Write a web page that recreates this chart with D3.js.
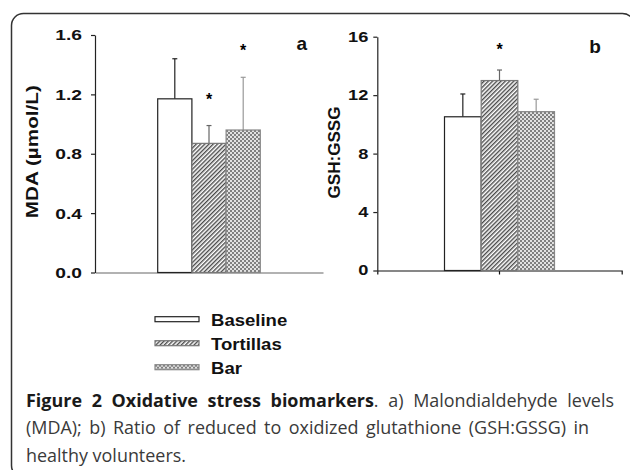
<!DOCTYPE html>
<html>
<head>
<meta charset="utf-8">
<script src="https://cdn.jsdelivr.net/npm/d3@7"></script>
<style>
  body { margin: 0; background: #fff; }
  svg { display: block; }
</style>
</head>
<body>
<div id="vis"></div>
<script>
// Data
var categories = ["Baseline", "Tortillas", "Bar"];
var mdaMean = [1.17, 0.87, 0.96];
var mdaSD = [0.27, 0.12, 0.355];
var mdaSig = [false, true, true];
var gshMean = [10.52, 13.0, 10.87];
var gshSD = [1.56, 0.72, 0.85];
var gshSig = [false, true, false];
var mdaTicks = [0, 0.4, 0.8, 1.2, 1.6];
var gshTicks = [0, 4, 8, 12, 16];
var captionBold = "Figure 2 Oxidative stress biomarkers";
var captionLines = [
  ". a) Malondialdehyde levels",
  "(MDA); b) Ratio of reduced to oxidized glutathione (GSH:GSSG) in",
  "healthy volunteers."
];

var width = 630;
var height = 470;
var font = "'Liberation Sans', Arial, sans-serif";

var svg = d3.select("#vis").append("svg")
  .attr("width", width)
  .attr("height", height);

svg.append("rect").attr("width", width).attr("height", height).attr("fill", "#fff");

// fill patterns for the bars
var defs = svg.append("defs");
var hatch = defs.append("pattern")
  .attr("id", "hatch")
  .attr("patternUnits", "userSpaceOnUse")
  .attr("width", 3).attr("height", 3)
  .attr("patternTransform", "rotate(45)");
hatch.append("rect").attr("width", 3).attr("height", 3).attr("fill", "#fff");
hatch.append("rect").attr("width", 1.4).attr("height", 3).attr("fill", "#4a4a4a");

var check = defs.append("pattern")
  .attr("id", "check")
  .attr("patternUnits", "userSpaceOnUse")
  .attr("width", 4).attr("height", 4);
check.append("rect").attr("width", 4).attr("height", 4).attr("fill", "#e2e2e2");
check.append("rect").attr("width", 2).attr("height", 2).attr("fill", "#808080");
check.append("rect").attr("x", 2).attr("y", 2).attr("width", 2).attr("height", 2).attr("fill", "#808080");

var fills = { Baseline: "#fff", Tortillas: "url(#hatch)", Bar: "url(#check)" };
var strokes = { Baseline: "#222", Tortillas: "#777", Bar: "#888" };
var errColor = { Baseline: "#222", Tortillas: "#666", Bar: "#999" };

// stretch text horizontally along its own direction
function stretch(sel, k) {
  sel.each(function () {
    var len = this.getComputedTextLength();
    d3.select(this)
      .attr("textLength", len * k)
      .attr("lengthAdjust", "spacingAndGlyphs");
  });
}

// frame around the figure
svg.append("rect")
  .attr("x", 11.5).attr("y", 13.5)
  .attr("width", 623).attr("height", 464)
  .attr("rx", 12)
  .attr("fill", "none")
  .attr("stroke", "#333")
  .attr("stroke-width", 1.5);

/**
 * drawPanel - one bar panel with y axis, error bars and asterisks
 */
function drawPanel(opt) {
  var g = svg.append("g");

  var y = d3.scaleLinear().domain(opt.domain).range(opt.yRange);
  var outer = d3.scaleBand().domain(["group"]).range(opt.xRange);
  var mid = outer("group") + outer.bandwidth() / 2;
  var x = d3.scaleBand().domain(categories)
    .range([mid - opt.halfWidth, mid + opt.halfWidth]);

  var rows = categories.map(function (c, i) {
    return { cat: c, mean: opt.mean[i], sd: opt.sd[i], sig: opt.sig[i] };
  });

  // x axis
  var xAxis = g.append("g")
    .attr("transform", "translate(0," + opt.yRange[0] + ")")
    .call(d3.axisBottom(outer).tickSize(opt.xTicks ? 4 : 0).tickSizeOuter(opt.xTicks ? 4 : 0).tickFormat(""));
  xAxis.selectAll("path, line").attr("stroke", opt.xAxisColor).attr("stroke-width", 1.2);

  // error bars (upper half only)
  var err = g.append("g").selectAll("g").data(rows).enter().append("g")
    .attr("stroke", function (d) { return errColor[d.cat]; })
    .attr("stroke-width", 1.2);
  err.append("line")
    .attr("x1", function (d) { return x(d.cat) + x.bandwidth() / 2; })
    .attr("x2", function (d) { return x(d.cat) + x.bandwidth() / 2; })
    .attr("y1", function (d) { return y(d.mean); })
    .attr("y2", function (d) { return y(d.mean + d.sd); });
  err.append("line")
    .attr("x1", function (d) { return x(d.cat) + x.bandwidth() / 2 - 2.5; })
    .attr("x2", function (d) { return x(d.cat) + x.bandwidth() / 2 + 2.5; })
    .attr("y1", function (d) { return y(d.mean + d.sd); })
    .attr("y2", function (d) { return y(d.mean + d.sd); });

  // bars
  g.append("g").selectAll("rect").data(rows).enter().append("rect")
    .attr("x", function (d) { return x(d.cat); })
    .attr("y", function (d) { return y(d.mean); })
    .attr("width", x.bandwidth())
    .attr("height", function (d) { return y(0) - y(d.mean); })
    .attr("fill", function (d) { return fills[d.cat]; })
    .attr("stroke", function (d) { return strokes[d.cat]; })
    .attr("stroke-width", 1.2);

  // significance marks
  g.append("g").selectAll("text").data(rows.filter(function (d) { return d.sig; }))
    .enter().append("text")
    .attr("x", function (d) { return x(d.cat) + x.bandwidth() / 2; })
    .attr("y", function (d) { return y(d.mean + d.sd) - opt.starGap; })
    .attr("text-anchor", "middle")
    .style("font-family", font)
    .style("font-weight", "bold")
    .style("font-size", "16px")
    .text("*");

  // y axis
  var yAxis = g.append("g")
    .attr("transform", "translate(" + opt.xRange[0] + ",0)")
    .call(d3.axisLeft(y).tickValues(opt.ticks).tickFormat(opt.format)
      .tickSize(4).tickSizeOuter(0).tickPadding(opt.tickPad));
  yAxis.selectAll("path, line").attr("stroke", "#222").attr("stroke-width", 1.2);
  yAxis.selectAll("text")
    .attr("fill", "#111")
    .style("font-family", font)
    .style("font-weight", "bold")
    .style("font-size", opt.tickFont + "px")
    .call(stretch, opt.tickStretch);

  // axis title
  var title = g.append("text")
    .attr("transform", "translate(" + opt.titleX + "," + opt.titleY + ") rotate(-90)")
    .attr("text-anchor", "middle")
    .attr("fill", "#111")
    .style("font-family", font)
    .style("font-weight", "bold")
    .style("font-size", opt.titleFont + "px")
    .text(opt.title);
  title.attr("textLength", opt.titleLen).attr("lengthAdjust", "spacingAndGlyphs");

  // panel letter
  g.append("text")
    .attr("x", opt.letterX).attr("y", opt.letterY)
    .attr("text-anchor", "middle")
    .attr("fill", "#111")
    .style("font-family", font)
    .style("font-weight", "bold")
    .style("font-size", "19px")
    .text(opt.letter);
}

drawPanel({
  domain: [0, 1.6], yRange: [272.5, 35], xRange: [95, 323], halfWidth: 51.3,
  mean: mdaMean, sd: mdaSD, sig: mdaSig, ticks: mdaTicks, format: d3.format(".1f"),
  tickPad: 9, tickFont: 15.5, tickStretch: 1.24, xTicks: false, xAxisColor: "#666",
  starGap: 21, title: "MDA (\u00b5mol/L)", titleX: 38.3, titleY: 151.7, titleFont: 16, titleLen: 133,
  letter: "a", letterX: 301.7, letterY: 50
});

drawPanel({
  domain: [0, 16], yRange: [270.5, 36.7], xRange: [377.3, 621.7], halfWidth: 55,
  mean: gshMean, sd: gshSD, sig: gshSig, ticks: gshTicks, format: d3.format("d"),
  tickPad: 5, tickFont: 14, tickStretch: 1.3, xTicks: true, xAxisColor: "#111",
  starGap: 15, title: "GSH:GSSG", titleX: 340, titleY: 152.5, titleFont: 16.5, titleLen: 92,
  letter: "b", letterX: 595, letterY: 53.3
});

// legend
var legend = svg.append("g").selectAll("g").data(categories).enter().append("g")
  .attr("transform", function (d, i) { return "translate(155," + (316.7 + i * 24) + ")"; });
legend.append("rect")
  .attr("width", 44).attr("height", 5)
  .attr("fill", function (d) { return fills[d]; })
  .attr("stroke", function (d) { return strokes[d]; })
  .attr("stroke-width", 1.2);
legend.append("text")
  .attr("x", 56).attr("y", 9.5)
  .attr("fill", "#111")
  .style("font-family", font)
  .style("font-weight", "bold")
  .style("font-size", "17px")
  .text(function (d) { return d; })
  .call(stretch, 1.09);

// caption: narrow glyphs, first line justified to the right edge
var capFont = "'Open Sans', 'Noto Sans', sans-serif";
var capSize = 18;
var capLeft = 26;
var capRight = [614, 589, 186];
var baselines = [406.5, 434, 461.5];

var cap = svg.append("g").style("font-family", capFont).style("font-size", capSize + "px");
var lines = captionLines.map(function (t, i) {
  var txt = cap.append("text")
    .attr("x", capLeft).attr("y", baselines[i])
    .attr("fill", "#3a3a3a");
  if (i === 0) {
    txt.append("tspan").style("font-weight", "bold").attr("fill", "#1a1a1a").text(captionBold);
  }
  txt.append("tspan").text(t);
  return txt;
});

// glyph squeeze taken from the last line, which is set at its natural width
var squeeze = (capRight[2] - capLeft) / lines[2].node().getComputedTextLength();
lines.forEach(function (txt, i) {
  var len = txt.node().getComputedTextLength();
  var full = (i === 0 ? captionBold : "") + captionLines[i];
  var gaps = full.split(" ").length - 1;
  var target = capRight[i] - capLeft;
  if (i < 2) {
    txt.style("word-spacing", ((target / squeeze - len) / gaps) + "px");
  }
  txt.attr("textLength", target).attr("lengthAdjust", "spacingAndGlyphs");
});
</script>
</body>
</html>
